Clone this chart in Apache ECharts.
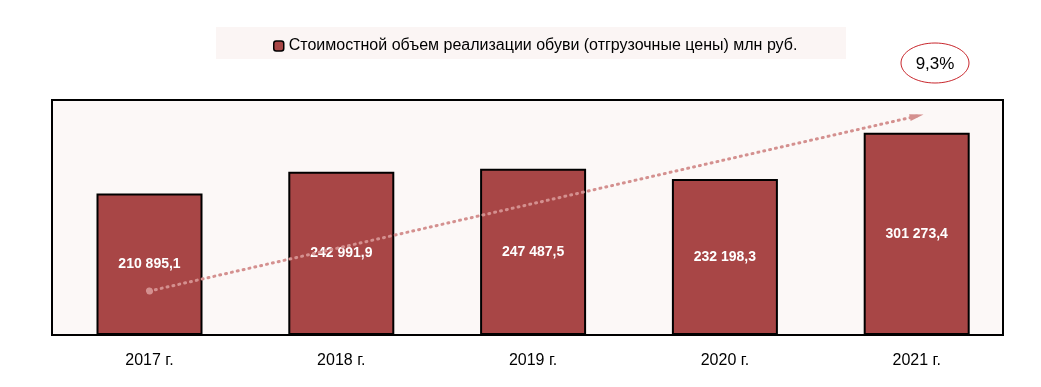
<!DOCTYPE html>
<html><head><meta charset="utf-8">
<script src="https://cdn.jsdelivr.net/npm/echarts@6/dist/echarts.min.js"></script>
<style>html,body{margin:0;padding:0;background:#fff}#c{width:1041px;height:387px}</style>
</head><body><div id="c"></div>
<script>
const categories = ['2017 г.', '2018 г.', '2019 г.', '2020 г.', '2021 г.'];
const values = [210895.1, 242991.9, 247487.5, 232198.3, 301273.4];
const labels = ['210 895,1', '242 991,9', '247 487,5', '232 198,3', '301 273,4'];
const seriesName = 'Стоимостной объем реализации обуви (отгрузочные цены) млн руб.';
const growthText = '9,3%';
const trendStart = ['2017 г.', 65500];
const trendEnd = ['2021 г.', 326000];

const FONT = '"Liberation Sans", Arial, sans-serif';
const chart = echarts.init(document.getElementById('c'));
chart.setOption({
  animation: false,
  textStyle: { fontFamily: FONT },
  grid: { left: 53.6, right: 28.4, top: 100, bottom: 52 },
  legend: {
    left: 268, top: 33, itemWidth: 10, itemHeight: 10, itemGap: 4,
    textStyle: { fontSize: 16, color: '#000', fontFamily: FONT },
    data: [{ name: seriesName, itemStyle: { color: '#A84646', borderColor: '#000', borderWidth: 1.5 } }]
  },
  graphic: [
    { type: 'rect', z: -1, silent: true, shape: { x: 216, y: 27, width: 630, height: 32 }, style: { fill: '#FBF5F4' } },
    { type: 'rect', z: -1, silent: true, shape: { x: 52, y: 100, width: 951, height: 235 }, style: { fill: '#FCF8F7', stroke: '#000', lineWidth: 2 } },
    { type: 'ellipse', shape: { cx: 935, cy: 63, rx: 34, ry: 20 }, style: { fill: '#fff', stroke: '#C8262C', lineWidth: 1 } },
    { type: 'text', x: 935, y: 64, style: { text: growthText, fill: '#000', font: '17px ' + FONT, align: 'center', verticalAlign: 'middle' } }
  ],
  xAxis: {
    type: 'category', data: categories,
    axisLine: { show: false }, axisTick: { show: false },
    axisLabel: { color: '#000', fontSize: 16, margin: 18, fontFamily: FONT }
  },
  yAxis: { type: 'value', min: 0, max: 350000, show: false, splitLine: { show: false } },
  series: [{
    name: seriesName, type: 'bar', data: values, barWidth: 106,
    itemStyle: { color: '#A84646', borderColor: '#000', borderWidth: 2 },
    label: {
      show: true, position: 'inside', color: '#fff', fontWeight: 'bold', fontSize: 14, fontFamily: FONT,
      formatter: p => labels[p.dataIndex]
    },
    markLine: {
      silent: true, symbol: ['circle', 'triangle'], symbolSize: [7, 14],
      lineStyle: { color: '#D4908F', type: [1, 5], width: 3, cap: 'round' },
      itemStyle: { color: '#D4908F' },
      label: { show: false },
      data: [[{ coord: trendStart }, { coord: trendEnd }]]
    }
  }]
});
</script></body></html>
